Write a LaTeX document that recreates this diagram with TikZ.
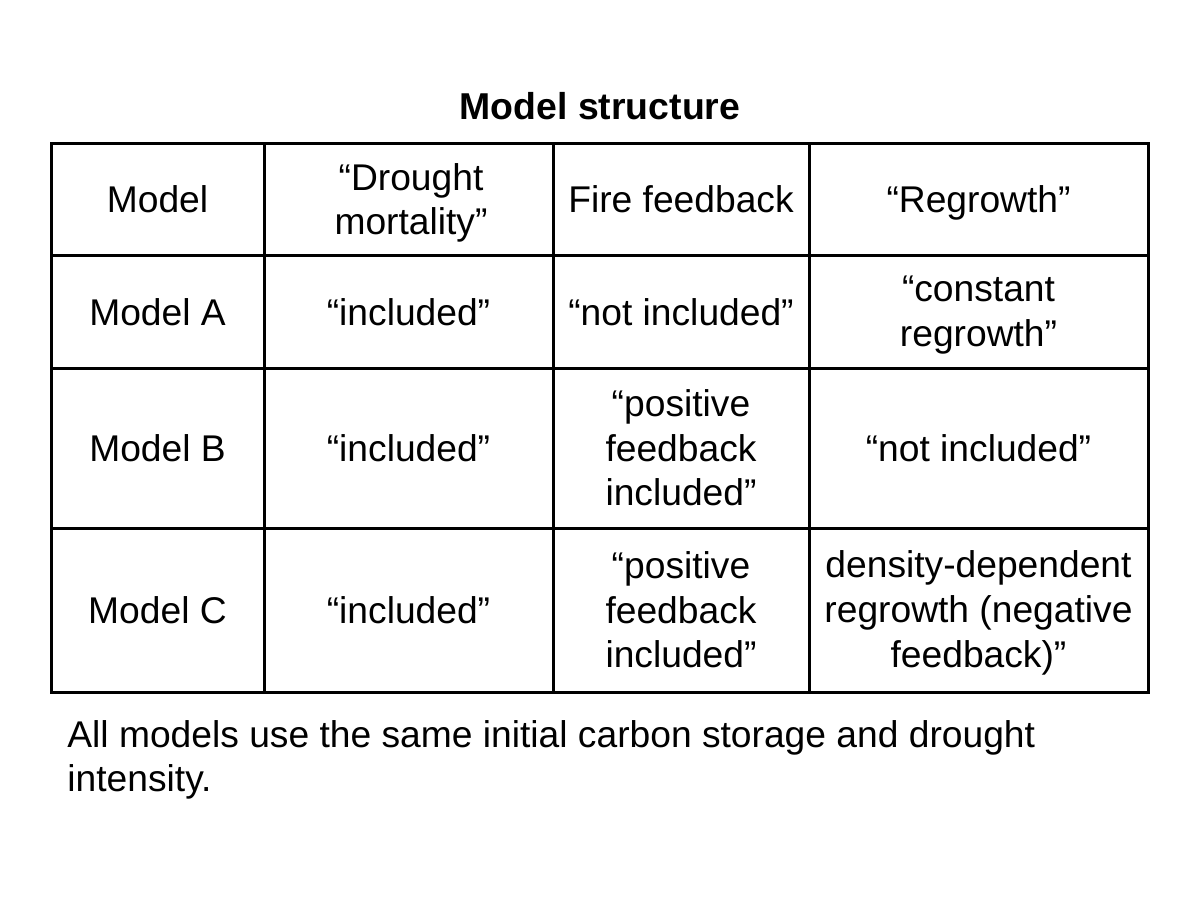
\documentclass[tikz,border=0pt]{standalone}
\usepackage{fontspec}
\setmainfont{Liberation Sans}
\begin{document}
\begin{tikzpicture}[x=0.5pt,y=-0.5pt,
  cell/.style={align=center,inner sep=0pt,font=\fontsize{18.6}{22.2}\selectfont},
  one/.style={cell,anchor=base},
  grid/.style={line width=1.5pt,line cap=rect}]
\useasboundingbox (0,0) rectangle (1200,896);
\fill[white] (0,0) rectangle (1200,896);
\node[font=\fontsize{18.7}{22}\selectfont\bfseries,inner sep=0pt] (title) at (600,106) {Model structure};
% grid
\draw[grid] (51,143) rectangle (1148,692);
\foreach \yy in {255,368,528} \draw[grid] (51,\yy) -- (1148,\yy);
\foreach \xx in {264,553,809} \draw[grid] (\xx,143) -- (\xx,692);
% header
\node[one] (h1) at (157.5,212.5) {Model};
\node[cell] (h2) at (411,203) {“Drought\\ mortality”};
\node[one] (h3) at (681,212.5) {Fire feedback};
\node[one] (h4) at (978.5,212.5) {“Regrowth”};
% row A
\node[one] (a1) at (157.5,325.5) {Model A};
\node[one] (a2) at (408.5,325.5) {“included”};
\node[one] (a3) at (681,325.5) {“not included”};
\node[cell] (a4) at (978.5,315) {“constant\\ regrowth”};
% row B
\node[one] (b1) at (157.5,461.5) {Model B};
\node[one] (b2) at (408.5,461.5) {“included”};
\node[cell] (b3) at (681,448) {“positive\\ feedback\\ included”};
\node[one] (b4) at (978.5,461.5) {“not included”};
% row C
\node[one] (c1) at (157.5,623.5) {Model C};
\node[one] (c2) at (408.5,623.5) {“included”};
\node[cell] (c3) at (681,610) {“positive\\ feedback\\ included”};
\node[cell,font=\fontsize{18.6}{22.5}\selectfont] (c4) at (978.5,613) {density-dependent\\ regrowth (negative\\ feedback)”};
% caption
\node[cell,align=left,anchor=north west] (cap) at (67,720) {All models use the same initial carbon storage and drought\\intensity.};
\end{tikzpicture}
\end{document}
